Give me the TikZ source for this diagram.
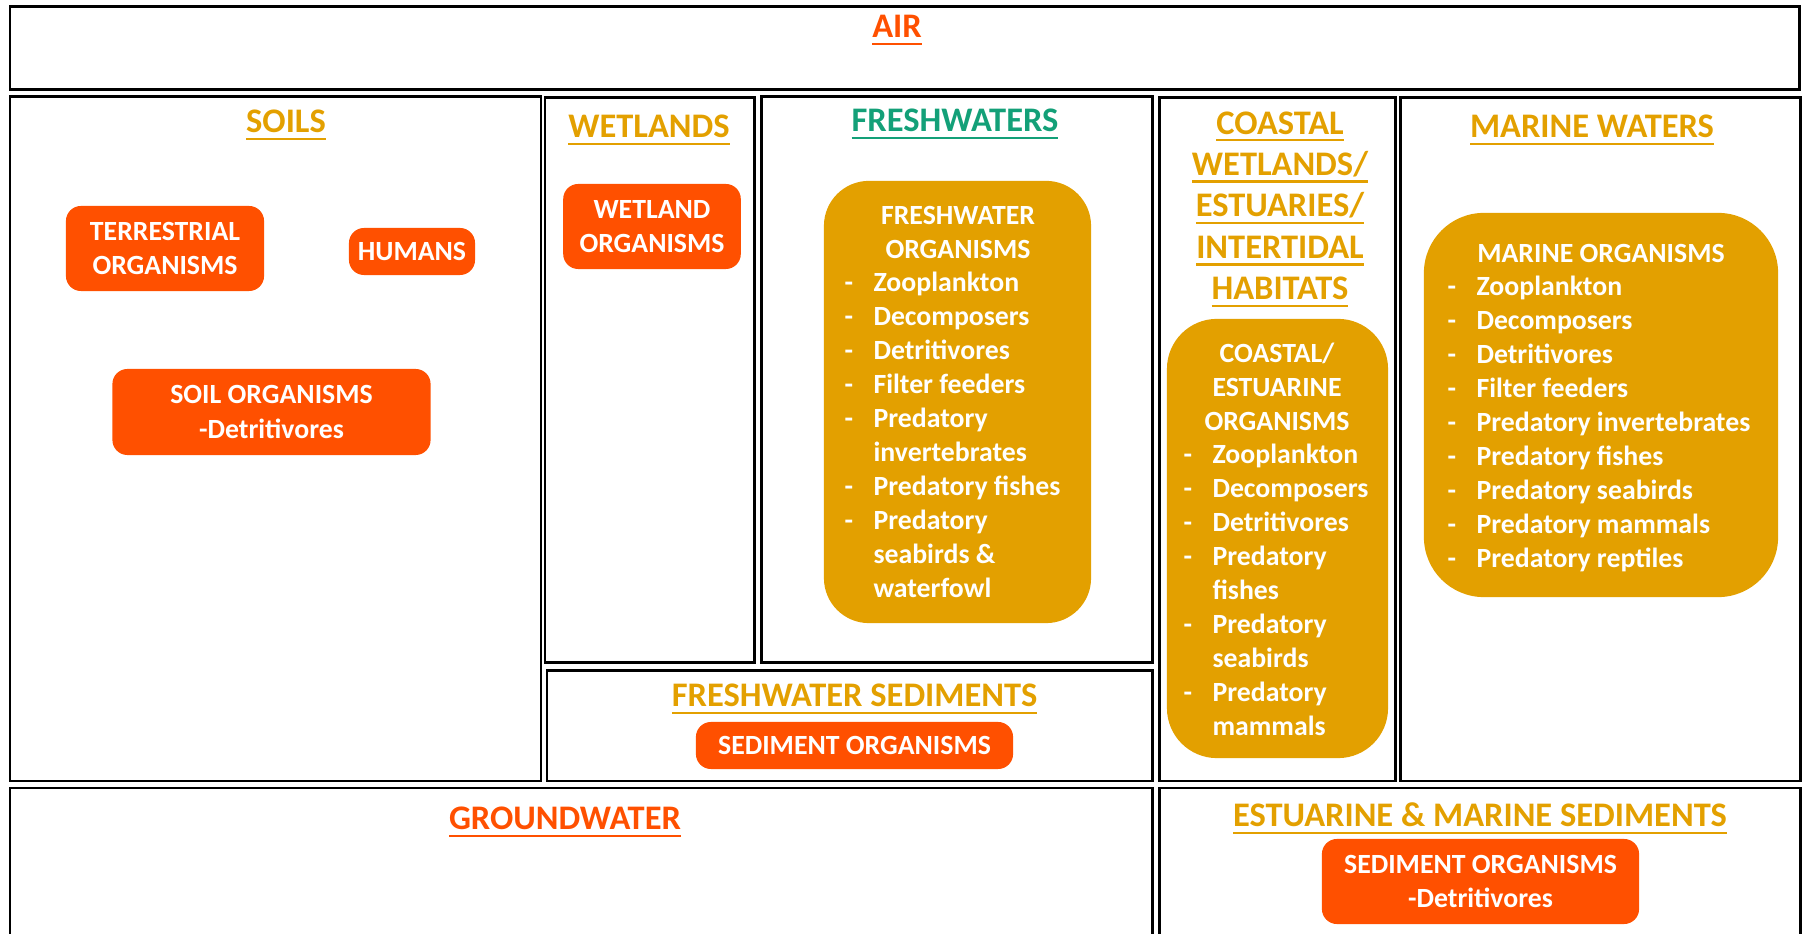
\documentclass[tikz,border=0pt]{standalone}
\usepackage{fontspec}
\setmainfont{Carlito}
\usetikzlibrary{positioning}

\definecolor{redorange}{HTML}{FF5000}
\definecolor{amber}{HTML}{E3A000}
\definecolor{fwgreen}{HTML}{13A078}

\newcommand\headul[1]{\setbox0\hbox{#1}\rlap{\rule[-2.1pt]{\wd0}{0.7pt}}\box0}
\newcommand\bul{\makebox[8.2pt][l]{-}}
\newcommand\cont{\hspace*{8.2pt}}

\tikzset{
  comp/.style={draw=black, line width=0.85pt},
  head/.style={font=\fontsize{9.8}{11.8}\selectfont\bfseries, inner sep=0pt, anchor=base, align=center},
  orgbox/.style={fill=redorange, text=white, rounded corners=0.15cm, inner sep=0pt,
    font=\fontsize{7.9}{9.67}\selectfont\bfseries, align=center},
  listbox/.style={fill=amber, inner sep=0pt},
  listtext/.style={text=white, inner sep=0pt, font=\fontsize{7.9}{9.67}\selectfont\bfseries},
}

\begin{document}
\begin{tikzpicture}[x=0.01cm, y=-0.01cm]
  \clip (0,0) rectangle (1805,934);

  %% compartments
  \draw[comp] (10,7) rectangle (1799,90);
  \draw[comp] (10,97) rectangle (541,781);
  \draw[comp] (545,98) rectangle (754,663);
  \draw[comp] (761,97) rectangle (1152,663);
  \draw[comp] (547,671) rectangle (1152,781);
  \draw[comp] (1159,98) rectangle (1395,781);
  \draw[comp] (1400,98) rectangle (1800,781);
  \draw[comp] (10,788) rectangle (1152,960);
  \draw[comp] (1159,788) rectangle (1800,960);

  %% headings (multi-line nodes sit on their last baseline)
  \node[head, text=redorange] (air) at (897,38) {\headul{AIR}};
  \node[head, text=amber] (soils) at (286,133) {\headul{SOILS}};
  \node[head, text=amber] (wetlands) at (649,138) {\headul{WETLANDS}};
  \node[head, text=fwgreen] (freshwaters) at (955,132) {\headul{FRESHWATERS}};
  \node[head, text=amber] (coastal) at (1280,300) {\headul{COASTAL}\\\headul{WETLANDS/}\\\headul{ESTUARIES/}\\\headul{INTERTIDAL}\\\headul{HABITATS}};
  \node[head, text=amber] (marine) at (1592,138) {\headul{MARINE WATERS}};
  \node[head, text=amber] (fwsed) at (854.5,707) {\headul{FRESHWATER SEDIMENTS}};
  \node[head, text=redorange] (ground) at (565,830) {\headul{GROUNDWATER}};
  \node[head, text=amber] (msed) at (1480,827) {\headul{ESTUARINE \& MARINE SEDIMENTS}};

  %% organism boxes
  \node[orgbox, minimum width=1.98cm, minimum height=0.85cm] (terr) at (165,248.5) {TERRESTRIAL\\ORGANISMS};
  \node[orgbox, minimum width=1.26cm, minimum height=0.47cm] (humans) at (412,251.5) {HUMANS};
  \node[orgbox, minimum width=3.18cm, minimum height=0.86cm] (soilorg) at (271.5,412) {SOIL ORGANISMS\\-Detritivores};
  \node[orgbox, minimum width=1.775cm, minimum height=0.85cm] (wetorg) at (652,226.5) {WETLAND\\ORGANISMS};
  \node[orgbox, minimum width=3.17cm, minimum height=0.47cm] (fwsedorg) at (854.5,745.5) {SEDIMENT ORGANISMS};
  \node[orgbox, minimum width=3.17cm, minimum height=0.85cm] (msedorg) at (1480.5,881.5) {SEDIMENT ORGANISMS\\-Detritivores};

  %% freshwater organisms
  \node[listbox, rounded corners=0.45cm, minimum width=2.67cm, minimum height=4.42cm] (fwbox) at (957.5,402) {};
  \node[listtext, align=center, anchor=base] (fwtitle) at (958,259) {FRESHWATER\\ORGANISMS};
  \node[listtext, align=left, anchor=base west] (fwlist) at (844,598) {\bul Zooplankton\\\bul Decomposers\\\bul Detritivores\\\bul Filter feeders\\\bul Predatory\\\cont invertebrates\\\bul Predatory fishes\\\bul Predatory\\\cont seabirds \&\\\cont waterfowl};

  %% coastal organisms
  \node[listbox, rounded corners=0.5cm, minimum width=2.21cm, minimum height=4.39cm] (cobox) at (1277.5,538.5) {};
  \node[listtext, align=center, anchor=base] (cotitle) at (1277,431) {COASTAL/\\ESTUARINE\\ORGANISMS};
  \node[listtext, align=left, anchor=base west] (colist) at (1183,736) {\bul Zooplankton\\\bul Decomposers\\\bul Detritivores\\\bul Predatory\\\cont fishes\\\bul Predatory\\\cont seabirds\\\bul Predatory\\\cont mammals};

  %% marine organisms
  \node[listbox, rounded corners=0.6cm, minimum width=3.54cm, minimum height=3.84cm] (mabox) at (1601,405) {};
  \node[listtext, anchor=base] (matitle) at (1601,263) {MARINE ORGANISMS};
  \node[listtext, align=left, anchor=base west] (malist) at (1447,568) {\bul Zooplankton\\\bul Decomposers\\\bul Detritivores\\\bul Filter feeders\\\bul Predatory invertebrates\\\bul Predatory fishes\\\bul Predatory seabirds\\\bul Predatory mammals\\\bul Predatory reptiles};
\end{tikzpicture}
\end{document}
